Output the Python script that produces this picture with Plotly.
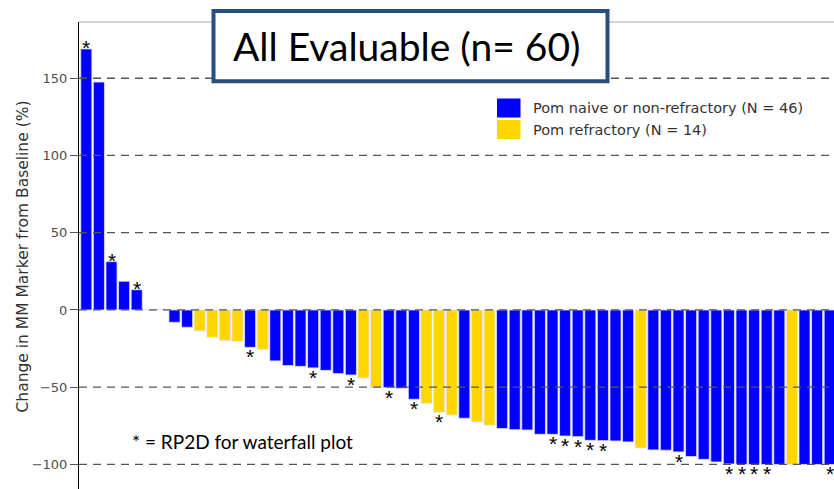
import plotly.graph_objects as go

# ---- data -------------------------------------------------------------
patients = list(range(60))
change_pct = [
    169.0, 147.5, 31.3, 18.6, 13.1, 0.0, 0.0,
    -8.0, -11.2, -13.6, -17.7, -19.8, -20.3, -24.2, -25.5, -33.0, -36.0,
    -36.5, -37.5, -39.1, -41.2, -42.1, -44.0, -50.1,
    -50.3, -50.7, -57.8, -60.4, -66.2, -68.0, -70.1, -72.5, -74.6, -76.8,
    -77.5, -77.7, -80.5, -80.5, -81.6, -82.0, -84.4, -84.6, -84.8, -85.4,
    -89.3, -90.6, -90.8, -91.9, -94.9, -96.7, -98.4, -99.7,
    -100.0, -100.0, -100.0, -100.0, -100.0, -100.0, -100.0, -100.0,
]
refractory_idx = [9, 10, 11, 12, 14, 22, 23, 27, 28, 29, 31, 32, 44, 56]
rp2d_idx = [0, 2, 4, 13, 18, 21, 24, 26, 28, 37, 38, 39, 40, 41, 47,
            51, 52, 53, 54, 59]
group_names = ["Pom naive or non-refractory (N = 46)", "Pom refractory (N = 14)"]
group_colors = ["#0000FF", "#FFD700"]
y_ticks = [-100, -50, 0, 50, 100, 150]
y_title = "Change in MM Marker from Baseline (%)"
box_title = "All Evaluable (n= 60)"
footnote = "* = RP2D for waterfall plot"

# ---- layout geometry (pixels) ----------------------------------------
W, H = 834, 489
ML, MT = 79, 22
PW, PH = W - ML, H - MT


def px(x):
    return (x - ML) / PW


def py(y):
    return 1 - (y - MT) / PH


fig = go.Figure()

for g, (name, color) in enumerate(zip(group_names, group_colors)):
    xs = [i for i in patients if (i in refractory_idx) == (g == 1)]
    fig.add_trace(go.Bar(
        x=xs, y=[change_pct[i] for i in xs], name=name,
        marker=dict(color=color, line=dict(color="rgba(225,225,255,0.8)", width=1)),
        showlegend=False,
    ))

shapes = []
# dashed reference lines drawn over the bars
for t in y_ticks:
    shapes.append(dict(type="line", xref="paper", yref="y", x0=0, x1=1, y0=t, y1=t,
                       line=dict(color="#555555", width=1.3, dash="8px,6px"), layer="above"))
# panel top border
shapes.append(dict(type="line", xref="paper", yref="paper", x0=0, x1=1, y0=1, y1=1,
                   line=dict(color="#aaaaaa", width=1), layer="above"))
# title box
shapes.append(dict(type="rect", xref="paper", yref="paper",
                   x0=px(213.5), x1=px(607.5), y0=py(81.3), y1=py(11),
                   line=dict(color="#264E80", width=4), fillcolor="white", layer="above"))
# legend swatches
legend_rows = [108, 129.5]
for (name, color), yc in zip(zip(group_names, group_colors), legend_rows):
    shapes.append(dict(type="rect", xref="paper", yref="paper",
                       x0=px(497), x1=px(520.5), y0=py(yc + 9.5), y1=py(yc - 9.5),
                       line=dict(width=0), fillcolor=color, layer="above"))

annotations = []
for (name, color), yc in zip(zip(group_names, group_colors), legend_rows):
    annotations.append(dict(xref="paper", yref="paper", x=px(531), y=py(yc),
                            xanchor="left", yanchor="middle", text=name, showarrow=False,
                            font=dict(family="DejaVu Sans", size=14.5, color="#333333")))

star_font = dict(family="Liberation Sans", size=21, color="black")
for i in rp2d_idx:
    v = change_pct[i]
    if v > 0:
        annotations.append(dict(x=i, y=v, xref="x", yref="y", text="*", showarrow=False,
                                yanchor="bottom", yshift=-12, font=star_font))
    else:
        annotations.append(dict(x=i, y=v, xref="x", yref="y", text="*", showarrow=False,
                                yanchor="top", yshift=4, font=star_font))

annotations.append(dict(xref="paper", yref="paper", x=px(407), y=py(46),
                        xanchor="center", yanchor="middle", text=box_title, showarrow=False,
                        font=dict(family="Lato", size=39, color="black")))
annotations.append(dict(xref="paper", yref="paper", x=px(130), y=py(441),
                        xanchor="left", yanchor="middle", text=footnote, showarrow=False,
                        font=dict(family="Lato", size=19, color="black")))
annotations.append(dict(xref="paper", yref="paper", x=px(22), y=py(256.5),
                        xanchor="center", yanchor="middle", text=y_title, showarrow=False,
                        textangle=-90,
                        font=dict(family="DejaVu Sans", size=15.5, color="#333333")))

fig.update_layout(
    width=W, height=H,
    margin=dict(l=ML, r=0, t=MT, b=0, pad=0),
    paper_bgcolor="white", plot_bgcolor="white",
    barmode="overlay", bargap=0.12,
    shapes=shapes, annotations=annotations,
    xaxis=dict(range=[-0.58, 59.34], visible=False, fixedrange=True),
    yaxis=dict(range=[-115.9, 186.4], tickvals=y_ticks, showgrid=False, zeroline=False,
               showline=True, linecolor="black", linewidth=1,
               ticks="outside", ticklen=8, tickcolor="#555555", ticklabelstandoff=0,
               tickfont=dict(family="DejaVu Sans", size=13, color="#4d4d4d")),
)

fig.write_html("out.html")
